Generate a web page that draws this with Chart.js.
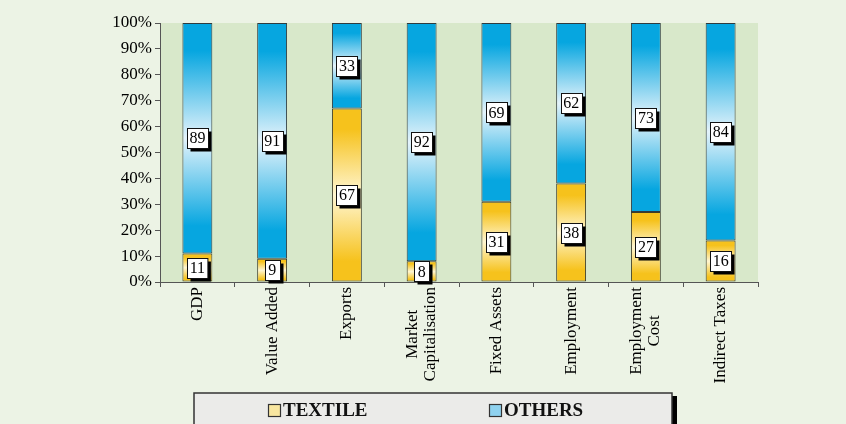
<!DOCTYPE html>
<html>
<head>
<meta charset="utf-8">
<script src="https://cdn.jsdelivr.net/npm/chart.js@4.4.1/dist/chart.umd.min.js"></script>
<style>
html,body{margin:0;padding:0;background:#ecf3e5;}
canvas{display:block;}
</style>
</head>
<body>
<canvas id="c" width="846" height="424"></canvas>
<script>
// ---- data ----
const CATEGORIES = ['GDP', 'Value Added', 'Exports', ['Market', 'Capitalisation'], 'Fixed Assets', 'Employment', ['Employment', 'Cost'], 'Indirect Taxes'];
const TEXTILE = [11, 9, 67, 8, 31, 38, 27, 16];
const OTHERS = [89, 91, 33, 92, 69, 62, 73, 84];
const SERIES_NAMES = ['TEXTILE', 'OTHERS'];
const Y_TICK_VALUES = [0, 10, 20, 30, 40, 50, 60, 70, 80, 90, 100];

const SERIF = '"Liberation Serif", "Times New Roman", serif';
const PALETTE = [
  { dark: '#f6c21c', light: '#fff6d2', legend: '#f8e6a0' },
  { dark: '#06a6e0', light: '#e4f3fb', legend: '#8fd2ef' }
];

function segmentGradient(ctx) {
  const ds = ctx.datasetIndex;
  const pal = PALETTE[ds] || PALETTE[0];
  const chart = ctx.chart;
  if (!chart.chartArea || ctx.dataIndex === undefined) return pal.dark;
  const y = chart.scales.y;
  const i = ctx.dataIndex;
  const start = ds === 0 ? 0 : TEXTILE[i];
  const end = ds === 0 ? TEXTILE[i] : TEXTILE[i] + OTHERS[i];
  const yTop = y.getPixelForValue(end);
  const yBot = y.getPixelForValue(start);
  if (!isFinite(yTop) || !isFinite(yBot) || yTop === yBot) return pal.dark;
  const g = chart.ctx.createLinearGradient(0, yTop, 0, yBot);
  g.addColorStop(0, pal.dark);
  g.addColorStop(0.12, pal.dark);
  g.addColorStop(0.5, pal.light);
  g.addColorStop(0.88, pal.dark);
  g.addColorStop(1, pal.dark);
  return g;
}

const bgPlugin = {
  id: 'bg',
  beforeDraw(chart) {
    const c = chart.ctx, a = chart.chartArea;
    c.save();
    c.fillStyle = '#ecf3e5';
    c.fillRect(0, 0, chart.width, chart.height);
    c.fillStyle = '#d8e8ca';
    c.fillRect(a.left, a.top, a.right - a.left, a.bottom - a.top);
    c.restore();
  }
};

const valueLabelPlugin = {
  id: 'valueLabels',
  afterDatasetsDraw(chart) {
    const c = chart.ctx;
    c.save();
    c.font = '16px ' + SERIF;
    c.textAlign = 'center';
    c.textBaseline = 'middle';
    chart.data.datasets.forEach((ds, di) => {
      const meta = chart.getDatasetMeta(di);
      meta.data.forEach((el, i) => {
        const v = ds.data[i];
        const cx = el.x;
        const cy = (el.y + el.base) / 2;
        const tw = c.measureText(String(v)).width;
        const w = Math.max(tw + 5, 15), h = 20;
        const x0 = Math.round(cx - w / 2) + 0.5, y0 = Math.round(cy - h / 2) + 0.5;
        c.fillStyle = '#000';
        c.fillRect(x0 + 3, y0 + 3, w, h);
        c.fillStyle = '#fff';
        c.fillRect(x0, y0, w, h);
        c.strokeStyle = '#111';
        c.lineWidth = 1;
        c.strokeRect(x0, y0, w, h);
        c.fillStyle = '#000';
        c.fillText(String(v), cx, cy + 1);
      });
    });
    c.restore();
  }
};

const xLabelPlugin = {
  id: 'xLabels',
  afterDraw(chart) {
    const c = chart.ctx;
    const xs = chart.scales.x;
    c.save();
    c.font = '17px ' + SERIF;
    c.fillStyle = '#000';
    c.textAlign = 'center';
    c.textBaseline = 'middle';
    const lh = 18;
    CATEGORIES.forEach((lab, i) => {
      const lines = Array.isArray(lab) ? lab : [lab];
      const W = Math.max(...lines.map(l => c.measureText(l).width));
      const x = xs.getPixelForTick(i);
      c.save();
      c.translate(x, xs.top + 5);
      c.rotate(-Math.PI / 2);
      lines.forEach((l, j) => {
        c.fillText(l, -W / 2, (j - (lines.length - 1) / 2) * lh);
      });
      c.restore();
    });
    c.restore();
  }
};

const legendPlugin = {
  id: 'boxLegend',
  afterDraw(chart) {
    const c = chart.ctx;
    c.save();
    const L = 194, T = 393, R = 672, B = 440;
    c.fillStyle = '#000';
    c.fillRect(R, T + 3, 5, B - T);
    c.fillStyle = '#ebebe9';
    c.fillRect(L, T, R - L, B - T);
    c.strokeStyle = '#333';
    c.lineWidth = 1.5;
    c.strokeRect(L, T, R - L, B - T);
    c.font = 'bold 19px ' + SERIF;
    c.textBaseline = 'middle';
    c.textAlign = 'left';
    const items = [{ x: 268 }, { x: 489 }];
    chart.data.datasets.forEach((ds, di) => {
      const it = items[di];
      c.fillStyle = PALETTE[di].legend;
      c.fillRect(it.x + 0.5, 404.5, 12, 12);
      c.strokeStyle = '#333';
      c.lineWidth = 1.2;
      c.strokeRect(it.x + 0.5, 404.5, 12, 12);
      c.fillStyle = '#111';
      c.fillText(ds.label, it.x + 15, 411);
    });
    c.restore();
  }
};

new Chart(document.getElementById('c'), {
  type: 'bar',
  data: {
    labels: CATEGORIES,
    datasets: [
      { label: SERIES_NAMES[0], data: TEXTILE, backgroundColor: segmentGradient, borderColor: '#3c3c2a', borderWidth: 1, borderSkipped: false },
      { label: SERIES_NAMES[1], data: OTHERS, backgroundColor: segmentGradient, borderColor: '#2f3b3f', borderWidth: 1, borderSkipped: false }
    ]
  },
  options: {
    responsive: false,
    animation: false,
    devicePixelRatio: 1,
    layout: { padding: { left: 0, right: 88, top: 23, bottom: 0 } },
    plugins: { legend: { display: false }, tooltip: { enabled: false } },
    datasets: { bar: { categoryPercentage: 1, barPercentage: 0.4 } },
    scales: {
      x: {
        stacked: true,
        grid: { drawOnChartArea: false, drawTicks: true, tickLength: 5, color: '#555', offset: true },
        border: { display: true, color: '#555', width: 1 },
        ticks: { display: false },
        afterFit(s) { s.height = 424 - 282 - 0; }
      },
      y: {
        stacked: true,
        min: 0,
        max: 100,
        afterBuildTicks(s) { s.ticks = Y_TICK_VALUES.map(v => ({ value: v })); },
        grid: { drawOnChartArea: false, drawTicks: true, tickLength: 5, color: '#555' },
        border: { display: true, color: '#555', width: 1 },
        ticks: {
          padding: 3,
          color: '#000',
          font: { family: SERIF, size: 17 },
          callback: (v) => v + '%'
        },
        afterFit(s) { s.width = 160; }
      }
    }
  },
  plugins: [bgPlugin, valueLabelPlugin, xLabelPlugin, legendPlugin]
});
</script>
</body>
</html>
